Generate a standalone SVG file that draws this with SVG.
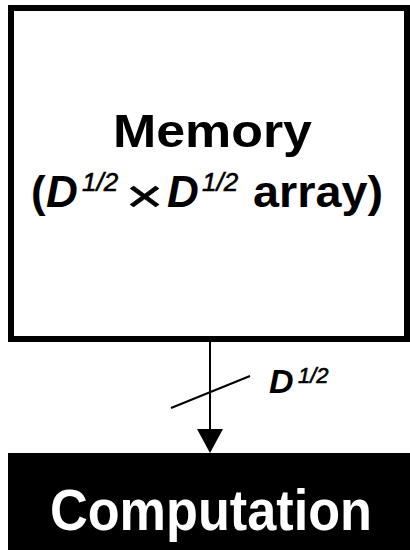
<svg xmlns="http://www.w3.org/2000/svg" width="410" height="550" viewBox="0 0 410 550">
<style>
.b{font-family:"Liberation Sans",Arial,sans-serif;font-weight:bold;fill:#000}
.bi{font-family:"Liberation Sans",Arial,sans-serif;font-weight:bold;font-style:italic;fill:#000}
.i{font-family:"Liberation Sans",Arial,sans-serif;font-style:italic;fill:#000;stroke:#000;stroke-width:0.6}
</style>
<rect width="410" height="550" fill="#fff"/>
<g id="memory">
<rect x="11" y="8" width="396" height="331" fill="#fff" stroke="#000" stroke-width="6"/>
<text class="b" x="113" y="147" font-size="47" textLength="199" lengthAdjust="spacingAndGlyphs">Memory</text>
<text class="b" x="31" y="207" font-size="44">(</text>
<text class="bi" x="46" y="207" font-size="44">D</text>
<text class="i" x="82" y="191" font-size="26">1/2</text>
<text class="i" transform="translate(125,212) scale(1.45,1.05)" x="0" y="0" font-size="44">×</text>
<text class="bi" x="167" y="207" font-size="44">D</text>
<text class="i" x="202" y="191" font-size="26">1/2</text>
<text class="b" x="253" y="207" font-size="44" textLength="130" lengthAdjust="spacingAndGlyphs">array)</text>
</g>
<g id="computation">
<rect x="8" y="453" width="402" height="97" fill="#000"/>
<text class="b" x="50" y="530" font-size="57" style="fill:#fff" textLength="322" lengthAdjust="spacingAndGlyphs">Computation</text>
</g>
<g id="connectors">
<line x1="210" y1="342" x2="210" y2="431" stroke="#000" stroke-width="2"/>
<polygon points="197,429 223,429 210,453" fill="#000"/>
<line x1="171" y1="408" x2="250" y2="376" stroke="#000" stroke-width="2"/>
<text class="bi" x="269" y="393" font-size="34">D</text>
<text class="i" x="298" y="383" font-size="22">1/2</text>
</g>
</svg>
